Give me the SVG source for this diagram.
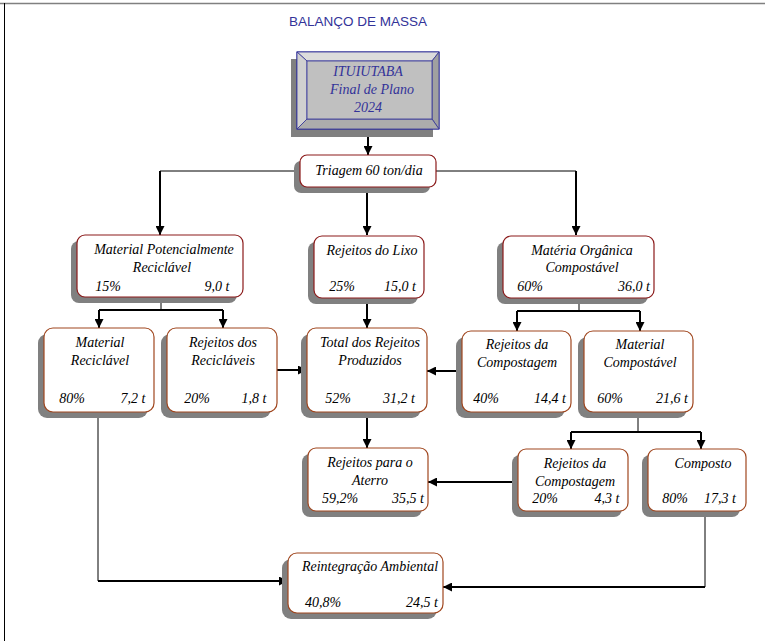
<svg xmlns="http://www.w3.org/2000/svg" width="765" height="641" viewBox="0 0 765 641">
<style>
.t{font-family:"Liberation Serif","Times New Roman",serif;font-style:italic;font-size:14px;fill:#000;text-anchor:middle}
.title{font-family:"Liberation Sans",Arial,sans-serif;font-size:13.5px;fill:#333399;text-anchor:middle}
.nv{font-family:"Liberation Serif","Times New Roman",serif;font-style:italic;font-size:14px;fill:#333399;text-anchor:middle}
.sh{fill:#808080}
.b1{fill:#fff;stroke:#8B1A1A;stroke-width:1.2}
.b2{fill:#fff;stroke:#A0461E;stroke-width:1.2}
.c{fill:none;stroke:#000;stroke-width:2}
.c1{fill:none;stroke:#000;stroke-width:1}
</style>
<defs>
<marker id="a" viewBox="0 0 10 10" refX="10" refY="5" markerWidth="4.5" markerHeight="4.5" orient="auto">
<path d="M0,0 L10,5 L0,10 z" fill="#000"/>
</marker>
</defs>
<rect width="765" height="641" fill="#fff"/>
<line x1="0" y1="3.5" x2="765" y2="3.5" stroke="#808080" stroke-width="1.5"/>
<line x1="4.5" y1="3" x2="4.5" y2="641" stroke="#000" stroke-width="1"/>
<text class="title" x="358" y="26">BALANÇO DE MASSA</text>

<g id="connectors">
<line class="c" x1="368" y1="129" x2="368" y2="155" marker-end="url(#a)"/>
<polyline class="c1" points="300,171 160,171"/>
<polyline class="c1" points="436,171 576,171"/>
<line class="c" x1="160" y1="171" x2="160" y2="235" marker-end="url(#a)"/>
<line class="c" x1="367" y1="187" x2="367" y2="235" marker-end="url(#a)"/>
<line class="c" x1="576" y1="171" x2="576" y2="235" marker-end="url(#a)"/>
<line class="c1" x1="161" y1="297" x2="161" y2="310"/>
<line class="c" x1="99" y1="310" x2="223" y2="310"/>
<line class="c" x1="99" y1="310" x2="99" y2="328" marker-end="url(#a)"/>
<line class="c" x1="223" y1="310" x2="223" y2="328" marker-end="url(#a)"/>
<line class="c" x1="367" y1="298" x2="367" y2="328" marker-end="url(#a)"/>
<line class="c1" x1="579" y1="298" x2="579" y2="311"/>
<line class="c" x1="517" y1="311" x2="640" y2="311"/>
<line class="c" x1="517" y1="311" x2="517" y2="331" marker-end="url(#a)"/>
<line class="c" x1="640" y1="311" x2="640" y2="331" marker-end="url(#a)"/>
<line class="c" x1="277" y1="370" x2="307" y2="370" marker-end="url(#a)"/>
<line class="c" x1="462" y1="371" x2="427" y2="371" marker-end="url(#a)"/>
<line class="c" x1="367" y1="412" x2="367" y2="448" marker-end="url(#a)"/>
<line class="c1" x1="638" y1="412" x2="638" y2="432"/>
<line class="c" x1="571" y1="432" x2="701" y2="432"/>
<line class="c" x1="571" y1="432" x2="571" y2="449" marker-end="url(#a)"/>
<line class="c" x1="701" y1="432" x2="701" y2="449" marker-end="url(#a)"/>
<line class="c" x1="518" y1="482" x2="428" y2="482" marker-end="url(#a)"/>
<line class="c1" x1="98" y1="412" x2="98" y2="581"/>
<line class="c" x1="98" y1="581" x2="288" y2="581" marker-end="url(#a)"/>
<line class="c1" x1="705" y1="511" x2="705" y2="587"/>
<line class="c" x1="705" y1="587" x2="443" y2="587" marker-end="url(#a)"/>
</g>

<g id="ituiutaba">
<rect class="sh" x="291" y="59" width="142" height="78"/>
<rect x="297" y="52" width="142" height="77" fill="#c0c0c0" stroke="#333399" stroke-width="1.2"/>
<polygon points="297,52 439,52 432,61 307,61" fill="#dcdcdc" stroke="#333399" stroke-width="0.8"/>
<polygon points="297,52 307,61 307,119 297,129" fill="#d0d0d0" stroke="#333399" stroke-width="0.8"/>
<polygon points="439,52 439,129 432,119 432,61" fill="#a0a0a0" stroke="#333399" stroke-width="0.8"/>
<polygon points="297,129 307,119 432,119 439,129" fill="#acacac" stroke="#333399" stroke-width="0.8"/>
<rect x="307" y="61" width="125" height="58" fill="#c0c0c0" stroke="#333399" stroke-width="0.8"/>
<text class="nv" x="368" y="76">ITUIUTABA</text>
<text class="nv" x="372" y="94">Final de Plano</text>
<text class="nv" x="368" y="112">2024</text>
</g>

<g id="triagem">
<rect class="sh" x="294" y="161" width="136" height="32" rx="7"/>
<rect class="b1" x="300" y="155" width="136" height="32" rx="7"/>
<text class="t" x="369" y="175">Triagem 60 ton/dia</text>
</g>

<g id="mpr">
<rect class="sh" x="71" y="241" width="166" height="62" rx="8"/>
<rect class="b1" x="77" y="235" width="166" height="62" rx="8"/>
<text class="t" x="164" y="254">Material Potencialmente</text>
<text class="t" x="162" y="272">Reciclável</text>
<text class="t" x="108" y="291">15%</text>
<text class="t" x="217" y="291">9,0 t</text>
</g>

<g id="lixo">
<rect class="sh" x="308" y="242" width="110" height="62" rx="8"/>
<rect class="b1" x="314" y="236" width="110" height="62" rx="8"/>
<text class="t" x="372" y="255">Rejeitos do Lixo</text>
<text class="t" x="342" y="291">25%</text>
<text class="t" x="400" y="291">15,0 t</text>
</g>

<g id="organica">
<rect class="sh" x="497" y="242" width="151" height="62" rx="8"/>
<rect class="b1" x="503" y="236" width="151" height="62" rx="8"/>
<text class="t" x="582" y="255">Matéria Orgânica</text>
<text class="t" x="582" y="272">Compostável</text>
<text class="t" x="530" y="291">60%</text>
<text class="t" x="634" y="291">36,0 t</text>
</g>

<g id="reciclavel">
<rect class="sh" x="38" y="334" width="110" height="84" rx="9"/>
<rect class="b2" x="44" y="328" width="110" height="84" rx="9"/>
<text class="t" x="100" y="347">Material</text>
<text class="t" x="100" y="365">Reciclável</text>
<text class="t" x="72" y="403">80%</text>
<text class="t" x="133" y="403">7,2 t</text>
</g>

<g id="rej_reciclaveis">
<rect class="sh" x="161" y="334" width="110" height="84" rx="9"/>
<rect class="b2" x="167" y="328" width="110" height="84" rx="9"/>
<text class="t" x="223" y="347">Rejeitos dos</text>
<text class="t" x="223" y="365">Recicláveis</text>
<text class="t" x="197" y="403">20%</text>
<text class="t" x="254" y="403">1,8 t</text>
</g>

<g id="total">
<rect class="sh" x="301" y="334" width="120" height="84" rx="9"/>
<rect class="b2" x="307" y="328" width="120" height="84" rx="9"/>
<text class="t" x="370" y="347">Total dos Rejeitos</text>
<text class="t" x="370" y="365">Produzidos</text>
<text class="t" x="338" y="403">52%</text>
<text class="t" x="399" y="403">31,2 t</text>
</g>

<g id="rej_compostagem1">
<rect class="sh" x="456" y="337" width="109" height="81" rx="9"/>
<rect class="b2" x="462" y="331" width="109" height="81" rx="9"/>
<text class="t" x="517" y="349">Rejeitos da</text>
<text class="t" x="517" y="367">Compostagem</text>
<text class="t" x="486" y="403">40%</text>
<text class="t" x="550" y="403">14,4 t</text>
</g>

<g id="compostavel">
<rect class="sh" x="578" y="337" width="109" height="81" rx="9"/>
<rect class="b2" x="584" y="331" width="109" height="81" rx="9"/>
<text class="t" x="640" y="349">Material</text>
<text class="t" x="640" y="367">Compostável</text>
<text class="t" x="610" y="403">60%</text>
<text class="t" x="672" y="403">21,6 t</text>
</g>

<g id="aterro">
<rect class="sh" x="302" y="454" width="120" height="63" rx="8"/>
<rect class="b2" x="308" y="448" width="120" height="63" rx="8"/>
<text class="t" x="370" y="467">Rejeitos para o</text>
<text class="t" x="370" y="485">Aterro</text>
<text class="t" x="340" y="503">59,2%</text>
<text class="t" x="408" y="503">35,5 t</text>
</g>

<g id="rej_compostagem2">
<rect class="sh" x="512" y="455" width="110" height="62" rx="8"/>
<rect class="b2" x="518" y="449" width="110" height="62" rx="8"/>
<text class="t" x="575" y="468">Rejeitos da</text>
<text class="t" x="575" y="486">Compostagem</text>
<text class="t" x="545" y="503">20%</text>
<text class="t" x="607" y="503">4,3 t</text>
</g>

<g id="composto">
<rect class="sh" x="642" y="455" width="98" height="62" rx="8"/>
<rect class="b2" x="648" y="449" width="98" height="62" rx="8"/>
<text class="t" x="703" y="468">Composto</text>
<text class="t" x="675" y="503">80%</text>
<text class="t" x="720" y="503">17,3 t</text>
</g>

<g id="reintegracao">
<rect class="sh" x="282" y="559" width="155" height="60" rx="9"/>
<rect class="b2" x="288" y="553" width="155" height="60" rx="9"/>
<text class="t" x="370" y="571">Reintegração Ambiental</text>
<text class="t" x="323" y="607">40,8%</text>
<text class="t" x="422" y="607">24,5 t</text>
</g>
</svg>
